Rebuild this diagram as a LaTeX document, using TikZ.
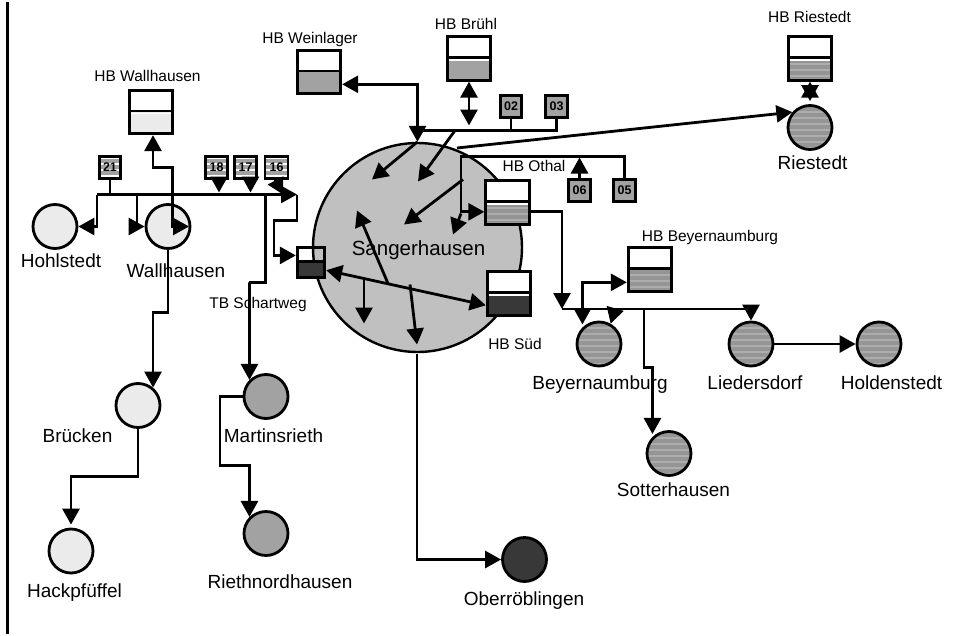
\documentclass[tikz,border=0pt]{standalone}
\usepackage{fontspec}
\setmainfont{Liberation Sans}
\usetikzlibrary{arrows.meta}

\definecolor{pale}{HTML}{EBEBEB}
\definecolor{midgrey}{HTML}{A2A2A2}
\definecolor{town}{HTML}{C0C0C0}
\definecolor{darkest}{HTML}{383838}
\definecolor{bandlo}{HTML}{959595}
\definecolor{bandhi}{HTML}{ADADAD}

\newcommand{\bandlines}[2]{%
  \foreach \yb in {#1} {
    \draw [#2, line width = 2pt]
    ([yshift = \yb pt]path picture bounding box.west) --
    ([yshift = \yb pt]path picture bounding box.east);
  }}

\begin{document}
\begin{tikzpicture}[
    x = 1pt,
    y = -1pt,
    line width = 2.8pt,
    >={Triangle[length = 16pt, width = 17pt]},
    nodetext/.style = {inner sep = 0pt, text height = 12pt, text depth = 3pt},
    placename/.style = {nodetext, font = \fontsize{19}{22}\selectfont},
    tankname/.style = {nodetext, font = \fontsize{15.5}{18}\selectfont},
    bigname/.style = {nodetext, font = \fontsize{20.5}{24}\selectfont},
    place/.style = {draw, circle, inner sep = 0pt, minimum size = 44pt, fill = #1},
    bandplace/.style = {place = bandlo, path picture = {
        \bandlines{-20,-14,...,20}{bandhi}}},
    tank/.style 2 args = {draw, fill = white, inner sep = 0pt,
      minimum size = 43.5pt, path picture = {
        \fill [#1] (path picture bounding box.west) rectangle
        (path picture bounding box.south east);
        \draw [#2, line width = 1.5pt]
        ([yshift = -1.5pt]path picture bounding box.west) --
        ([yshift = -1.5pt]path picture bounding box.east);
        \draw ([yshift = 1pt]path picture bounding box.west) --
        ([yshift = 1pt]path picture bounding box.east);}},
    bandtank/.style = {draw, fill = white, inner sep = 0pt,
      minimum size = 43.5pt, path picture = {
        \fill [bandlo] (path picture bounding box.west) rectangle
        (path picture bounding box.south east);
        \bandlines{-5,-11,...,-23}{bandhi}
        \draw [#1, line width = 1.5pt]
        ([yshift = -1.5pt]path picture bounding box.west) --
        ([yshift = -1.5pt]path picture bounding box.east);
        \draw ([yshift = 1pt]path picture bounding box.west) --
        ([yshift = 1pt]path picture bounding box.east);}},
    meter/.style = {draw, fill = midgrey, inner sep = 0pt,
      minimum width = 21.5pt, minimum height = 21.5pt,
      font = \fontsize{12.5}{14}\selectfont\bfseries},
    bandmeter/.style = {meter, fill = white, path picture = {
        \fill [midgrey] (path picture bounding box.south west) rectangle
        (path picture bounding box.north east);
        \bandlines{-8,-2,4,10}{white}
        \node at (path picture bounding box.center) {#1};}},
    ]

    \draw [line width = 3pt] (7, 0) -- (7, 632);
    \useasboundingbox (0, 0) rectangle (959, 632);

    % town in the middle first, everything else lies on it
    \node at (417.5, 246)
    [place = town, minimum size = 209pt, line width = 2.4pt, name = Sang] {};
    \node at (418.5, 249) [bigname, name = l_Sang] {Sangerhausen};

    % tanks
    \node at (151, 110.5) [tank = {pale}{white}, name = HB_Wh] {};
    \node at (319, 70.5) [tank = {midgrey}{midgrey}, name = HB_Wl] {};
    \node at (469, 57) [tank = {midgrey}{white}, name = HB_Br] {};
    \node at (507.5, 201) [bandtank = white, name = HB_Ot] {};
    \node at (509, 292) [tank = {darkest}{white}, name = HB_Sd] {};
    \node at (810, 57) [bandtank = white, name = HB_Ri] {};
    \node at (650, 268) [bandtank = bandlo, name = HB_By] {};
    \node at (311, 261)
    [tank = {darkest}{darkest}, fill = none, minimum width = 27.5pt,
      minimum height = 29.5pt, name = TB_Sw] {};

    % places
    \node at (55, 225) [place = pale, name = Hohl] {};
    \node at (168, 225) [place = pale, name = Wall] {};
    \node at (138, 404) [place = pale, name = Brue] {};
    \node at (71, 549.5) [place = pale, name = Hack] {};
    \node at (266, 395) [place = midgrey, name = Mart] {};
    \node at (266, 532) [place = midgrey, name = Rnor] {};
    \node at (524.5, 558) [place = darkest, name = Ober] {};
    \node at (810, 126) [bandplace, name = Ries] {};
    \node at (599, 342.5) [bandplace, name = Beye] {};
    \node at (751, 342.5) [bandplace, name = Lied] {};
    \node at (879, 342.5) [bandplace, name = Hold] {};
    \node at (669, 452) [bandplace, name = Sott] {};

    % numbered boxes
    \node at (110, 166) [bandmeter = 21, name = B21] {};
    \node at (216.5, 166) [bandmeter = 18, name = B18] {};
    \node at (245.5, 166) [bandmeter = 17, name = B17] {};
    \node at (276.5, 166) [bandmeter = 16, minimum width = 23pt, name = B16] {};
    \node at (511, 105) [meter, name = B02] {02};
    \node at (556.5, 105) [meter, name = B03] {03};
    \node at (579.5, 189) [meter, name = B06] {06};
    \node at (624.5, 189) [meter, name = B05] {05};

    % labels
    \node at (147.5, 75) [tankname, name = l_HB_Wh] {HB Wallhausen};
    \node at (310, 37) [tankname, name = l_HB_Wl] {HB Weinlager};
    \node at (466, 23) [tankname, name = l_HB_Br] {HB Brühl};
    \node at (534, 165) [tankname, name = l_HB_Ot] {HB Othal};
    \node at (515, 343) [tankname, name = l_HB_Sd] {HB Süd};
    \node at (809.5, 16) [tankname, name = l_HB_Ri] {HB Riestedt};
    \node at (710, 235) [tankname, name = l_HB_By] {HB Beyernaumburg};
    \node at (258, 302) [tankname, name = l_TB_Sw] {TB Schartweg};

    \node at (61, 261) [placename, name = l_Hohl] {Hohlstedt};
    \node at (176, 271) [placename, name = l_Wall] {Wallhausen};
    \node at (77.5, 436) [placename, name = l_Brue] {Brücken};
    \node at (74.5, 591) [placename, name = l_Hack] {Hackpfüffel};
    \node at (273.5, 436) [placename, name = l_Mart] {Martinsrieth};
    \node at (280, 582.5) [placename, name = l_Rnor] {Riethnordhausen};
    \node at (524, 599) [placename, name = l_Ober] {Oberröblingen};
    \node at (812.5, 163) [placename, name = l_Ries] {Riestedt};
    \node at (600, 383) [placename, name = l_Beye] {Beyernaumburg};
    \node at (755, 383) [placename, name = l_Lied] {Liedersdorf};
    \node at (891.5, 383) [placename, name = l_Hold] {Holdenstedt};
    \node at (673.5, 490) [placename, name = l_Sott] {Sotterhausen};

    % west bus
    \coordinate (bus_w) at (97, 193);
    \coordinate (bus_e) at (297, 193);
    \coordinate (bus_s) at (274, 219);
    \coordinate (j_wall) at (137, 193);
    \coordinate (j_mart) at (265.5, 193);
    \coordinate (m_low) at (249, 281);
    \coordinate (j_21) at (110, 193);
    \coordinate (t_18) at (219, 191);
    \coordinate (t_17) at (250.5, 191);
    \coordinate (t_16) at (283, 193);
    \coordinate (s_16) at (275, 178);

    \draw [->] (bus_w) -- (bus_e);
    \draw (B21.south) -- (j_21);
    \draw [->] (bus_w) |- (Hohl);
    \draw [->] (j_wall) |- (Wall);
    \draw [->] (t_18 |- B18.south) -- (t_18);
    \draw [->] (t_17 |- B17.south) -- (t_17);
    \draw [->] (s_16) -- (t_16);
    \draw [->] (bus_e) |- (bus_s) |- (TB_Sw.155);
    \draw [->] (j_mart) |- (m_low) -| (Mart.135);

    % Wallhausen and its tank
    \coordinate (wh_up) at (172.5, 166);
    \coordinate (wh_in) at (189, 225);
    \coordinate (wh_low) at (153.5, 311);
    \draw [<->] (HB_Wh.275) |- (wh_up) |- (wh_in);
    \draw [->] (Wall.south) |- (wh_low) -| (Brue.50);

    \coordinate (br_low) at (71, 475);
    \draw [->, shorten > = 3pt] (Brue.south) |- (br_low) -- (Hack.north);

    \coordinate (ma_w) at (220, 395);
    \coordinate (ma_low) at (249, 464);
    \draw [->] (Mart.west) -- (ma_w) |- (ma_low) -| (Rnor.135);

    % north bus
    \coordinate (nb_w) at (417.5, 129);
    \coordinate (nb_e) at (556.5, 129);
    \coordinate (nb_br) at (469, 124);
    \coordinate (nb_j) at (455, 129);
    \coordinate (t_a) at (372, 178);
    \coordinate (t_b) at (418, 180);
    \coordinate (s_ri) at (457, 146.5);

    \draw (nb_w) -- (nb_e) -- (B03.south);
    \draw (B02.south) |- (nb_e);
    \draw [<->] (HB_Wl.332) -| (Sang.north);
    \draw [<->] (HB_Br.south) -- (nb_br);
    \draw [->] (Sang.north) -- (t_a);
    \draw [->] (nb_j) -- (t_b);
    \draw [->] (s_ri) -- (Ries.139);
    \draw [<->, shorten > = 3pt] (HB_Ri.south) -- (Ries.north);

    % Othal
    \coordinate (ot_c) at (461, 155);
    \coordinate (ot_j) at (461, 212);
    \coordinate (ot_t) at (453, 233);
    \coordinate (ot_s) at (463, 178);
    \coordinate (ot_i) at (404, 223);
    \coordinate (t_06) at (579.5, 156);
    \draw [->] (B05.north) |- (ot_c) |- (HB_Ot.202);
    \draw [->] (B06.north) -- (t_06);
    \draw [->] (ot_j) -- (ot_t);
    \draw [->] (ot_s) -- (ot_i);

    % inside the town
    \coordinate (s_u) at (388, 282);
    \coordinate (t_u) at (357, 209);
    \coordinate (s_d) at (364, 278);
    \coordinate (t_d) at (364, 322);
    \coordinate (s_e) at (410, 283);
    \coordinate (t_e) at (417, 343);
    \draw [<->] (TB_Sw.333) -- (HB_Sd.207);
    \draw [->] (s_u) -- (t_u);
    \draw [->] (s_d) -- (t_d);
    \draw [->] (s_e) -- (t_e);

    \coordinate (ob_e) at (417, 352);
    \draw [->] (ob_e) |- (Ober);

    % east bus
    \coordinate (eb_w) at (562, 307.5);
    \coordinate (eb_b) at (615, 307.5);
    \coordinate (eb_c) at (644, 307.5);
    \coordinate (eb_d) at (644, 366);
    \draw [->] (HB_Ot.338) -| (eb_w);
    \draw [->] (eb_w) -| (Lied.north);
    \draw [<->, shorten > = 3pt] (HB_By.209) -| (Beye.135);
    \draw [->] (eb_b) -- (Beye.60);
    \draw [->, shorten > = 3pt] (eb_c) -- (eb_d) -| (Sott.135);
    \draw [->] (Lied.east) -- (Hold.west);
  \end{tikzpicture}
\end{document}
